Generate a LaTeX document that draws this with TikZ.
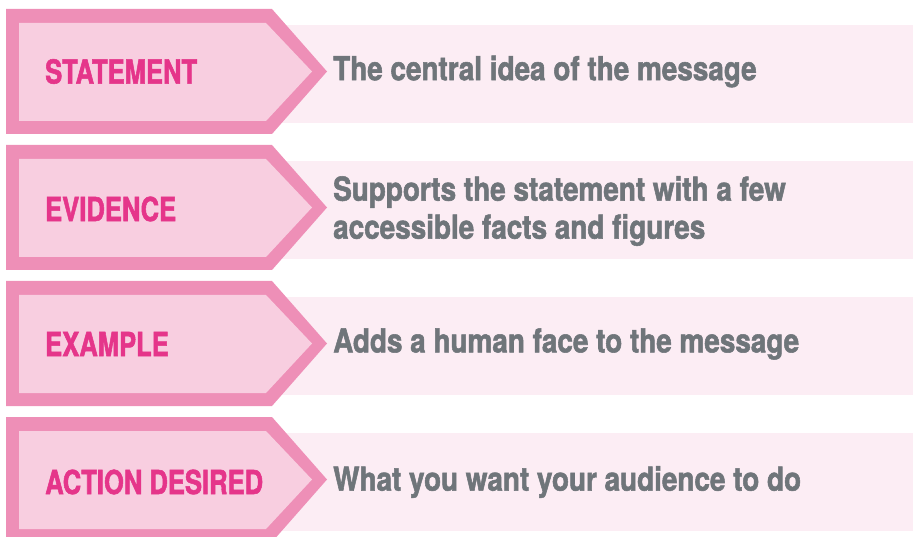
\documentclass[tikz,border=0pt]{standalone}
\usepackage{fontspec}
\newfontfamily\lblfont{TeX Gyre Heros}[FakeStretch=0.775, FakeBold=1.6, BoldFeatures={FakeStretch=0.775, FakeBold=1.6}]
\newfontfamily\descfont{TeX Gyre Heros}[FakeStretch=0.845, FakeBold=1.6, BoldFeatures={FakeStretch=0.845, FakeBold=1.6}]
\definecolor{outerpink}{HTML}{EE8FB7}
\definecolor{innerpink}{HTML}{F8CEE0}
\definecolor{backpink}{HTML}{FCEDF4}
\definecolor{labelpink}{HTML}{E5358A}
\definecolor{descgray}{HTML}{6F757A}
\tikzset{
  lbl/.style={anchor=west, inner sep=0pt, font=\lblfont\bfseries\fontsize{33}{36}\selectfont, text=labelpink},
  desc/.style={anchor=west, inner sep=0pt, font=\descfont\bfseries\fontsize{33}{38}\selectfont, text=descgray, align=left},
}
\newcommand{\arrowrow}[1]{%
  \fill[backpink] (280,#1+16) rectangle (913,#1+114);
  \fill[outerpink] (6,#1) -- (272,#1) -- (327,#1+62.5) -- (272,#1+125) -- (6,#1+125) -- cycle;
  \fill[innerpink] (19,#1+14) -- (266,#1+14) -- (312,#1+62.5) -- (266,#1+112) -- (19,#1+112) -- cycle;
}
\begin{document}
\begin{tikzpicture}[x=1pt,y=-1pt]
\useasboundingbox (0,0) rectangle (913,537);
\clip (0,0) rectangle (913,537);
\arrowrow{9}
\arrowrow{145}
\arrowrow{281}
\arrowrow{417}
\node[lbl] (l1) at (45,71.5) {STATEMENT};
\node[lbl] (l2) at (45,209) {EVIDENCE};
\node[lbl] (l3) at (45,344) {EXAMPLE};
\node[lbl] (l4) at (45,482) {ACTION DESIRED};
\node[desc] (d1) at (333,71.5) {The central idea of the message};
\node[desc] (d2) at (333,211) {Supports the statement with a few\\accessible facts and figures};
\node[desc] (d3) at (333,344) {Adds a human face to the message};
\node[desc] (d4) at (333,482) {What you want your audience to do};
\end{tikzpicture}
\end{document}
